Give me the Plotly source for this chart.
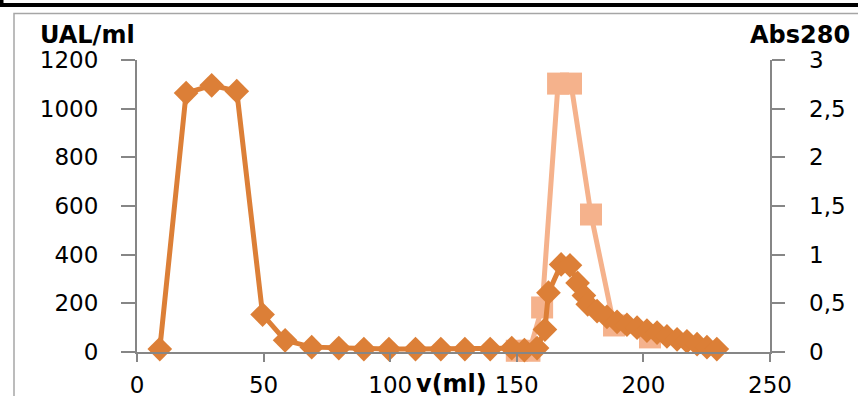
import plotly.graph_objects as go

# ---- data ----
abs_x = [9, 19.4, 29.5, 39.4, 49.6, 58.5, 69, 79.7, 89.6, 99.5, 110, 120, 129.5, 139.5,
         148, 153, 158, 161.1, 162.5, 167.5, 171, 174, 176.5, 178, 181.7, 185.6, 189.6,
         193.5, 197.5, 201.4, 205.4, 209.3, 213.3, 217.2, 221.2, 225.1, 229]
abs_y = [0.03, 2.66, 2.74, 2.68, 0.385, 0.12, 0.05, 0.04, 0.03, 0.03, 0.03, 0.03, 0.03, 0.03,
         0.04, 0.02, 0.04, 0.23, 0.61, 0.90, 0.89, 0.71, 0.58, 0.49, 0.42, 0.36, 0.31,
         0.28, 0.25, 0.22, 0.20, 0.16, 0.13, 0.11, 0.08, 0.05, 0.03]

ual_x = [150, 155, 160, 166.3, 171.4, 179.3, 188.4, 202.6]
ual_y = [5, 5, 183, 1103, 1103, 565, 109, 60]

x_ticks = [0, 50, 100, 150, 200, 250]
y1_ticks = [0, 200, 400, 600, 800, 1000, 1200]
y2_ticks = [0, 0.5, 1, 1.5, 2, 2.5, 3]
y2_text = ["0", "0,5", "1", "1,5", "2", "2,5", "3"]

W, H = 858, 396
L, R, T, B = 137, 88, 60, 44
PW, PH = W - L - R, H - T - B


def px(x):
    return (x - L) / PW


def py(y):
    return (H - B - y) / PH


DARK = "#DC7F37"
LIGHT = "#F5B28C"
AXC = "#868686"
FONT = "DejaVu Sans"

fig = go.Figure()
fig.add_trace(go.Scatter(
    x=ual_x, y=ual_y, mode="lines+markers", yaxis="y",
    line=dict(color=LIGHT, width=5),
    marker=dict(symbol="square", size=22, color=LIGHT),
    cliponaxis=False, showlegend=False))
fig.add_trace(go.Scatter(
    x=abs_x, y=abs_y, mode="lines+markers", yaxis="y2",
    line=dict(color=DARK, width=5),
    marker=dict(symbol="diamond", size=19, color=DARK),
    cliponaxis=False, showlegend=False))

tick_font = dict(family=FONT, size=23, color="#000000")

annotations = [
    dict(text="<b>UAL/ml</b>", xref="paper", yref="paper", x=px(38), y=py(35),
         xanchor="left", yanchor="middle", showarrow=False,
         font=dict(family=FONT, size=24, color="#000000")),
    dict(text="<b>Abs280</b>", xref="paper", yref="paper", x=px(852), y=py(35),
         xanchor="right", yanchor="middle", showarrow=False,
         font=dict(family=FONT, size=24, color="#000000")),
    dict(text="<b>v(ml)</b>", xref="paper", yref="paper", x=px(451), y=py(384),
         xanchor="center", yanchor="middle", showarrow=False,
         font=dict(family=FONT, size=24, color="#000000")),
]
for v, t in zip(y2_ticks, y2_text):
    annotations.append(dict(text=t, xref="paper", yref="y2", x=px(807), y=v,
                            xanchor="left", yanchor="middle", showarrow=False,
                            font=tick_font))

fig.update_layout(
    width=W, height=H,
    margin=dict(l=L, r=R, t=T, b=B, pad=0, autoexpand=False),
    paper_bgcolor="white", plot_bgcolor="white",
    xaxis=dict(range=[0, 250], tickvals=x_ticks, showgrid=False, zeroline=False,
               showline=True, linecolor=AXC, linewidth=2, ticks="outside",
               ticklen=8, tickcolor=AXC, tickwidth=2, tickfont=tick_font,
               ticklabelstandoff=3, automargin=False),
    yaxis=dict(range=[0, 1200], tickvals=y1_ticks, showgrid=False, zeroline=False,
               showline=True, linecolor=AXC, linewidth=2, ticks="outside",
               ticklen=14, tickcolor=AXC, tickwidth=2, tickfont=tick_font,
               ticklabelstandoff=18, automargin=False),
    yaxis2=dict(range=[0, 3], tickvals=y2_ticks, showticklabels=False, overlaying="y",
                side="right", showgrid=False, zeroline=False, showline=True,
                linecolor=AXC, linewidth=2, ticks="outside", ticklen=13,
                tickcolor=AXC, tickwidth=2, automargin=False),
    annotations=annotations,
    shapes=[
        dict(type="path", xref="paper", yref="paper",
             path=f"M {px(1.5)} {py(0)} L {px(1.5)} {py(5)} L {px(860)} {py(5)}",
             line=dict(color="#000000", width=4)),
        dict(type="path", xref="paper", yref="paper",
             path=f"M {px(14)} {py(400)} L {px(14)} {py(13.5)} L {px(860)} {py(13.5)}",
             line=dict(color="#A6A6A6", width=1.5)),
    ],
)

fig.write_html("out.html", config={"displayModeBar": False},
               post_script="document.body.style.margin='0px';")
